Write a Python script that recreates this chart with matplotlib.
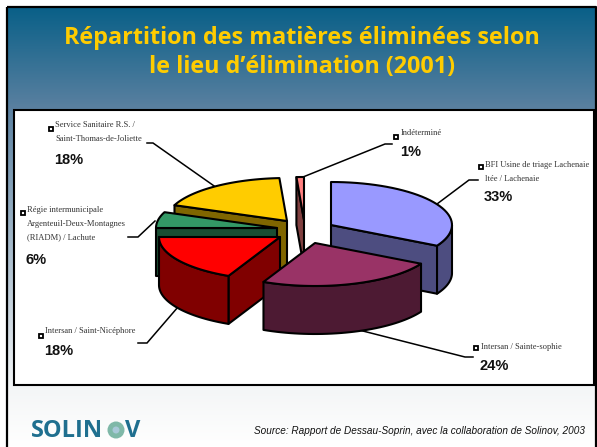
import numpy as np
import matplotlib
matplotlib.use('Agg')
import matplotlib.pyplot as plt
from matplotlib.patches import Polygon, Rectangle, Circle
from matplotlib.colors import LinearSegmentedColormap

names = ['BFI Usine de triage Lachenaie\nltée / Lachenaie', 'Intersan / Sainte-sophie',
         'Intersan / Saint-Nicéphore', 'Régie intermunicipale\nArgenteuil-Deux-Montagnes\n(RIADM) / Lachute',
         'Service Sanitaire R.S. /\nSaint-Thomas-de-Joliette', 'Indéterminé']
values = [33, 24, 18, 6, 18, 1]
top_colors = ['#9999ff', '#993366', '#ff0000', '#339966', '#ffcc00', '#ff8080']
side_colors = ['#4d4d80', '#4d1a33', '#800000', '#1a4d33', '#806600', '#804040']
tips_x = [331, 315, 280, 277, 287, 304]
tips_y = [225, 243, 237, 228, 221, 220]
draw_order = [5, 4, 3, 2, 0, 1]
label_x = [485, 481, 45, 27, 55, 401]
label_y = [161, 343, 327, 206, 121, 129]
pct_x = [484, 480, 44, 26, 54, 400]
pct_y = [197, 366, 351, 260, 160, 152]
marker_x = [481, 476, 41, 23, 51, 396]
marker_y = [167, 348, 336, 213, 129, 137]
leader_x = [[478, 469, 437], [473, 465, 355], [138, 147, 178], [128, 138, 155], [147, 153, 217], [392, 385, 303]]
leader_y = [[180, 180, 204], [357, 357, 329], [343, 343, 307], [237, 237, 221], [143, 143, 188], [144, 144, 177]]
title_lines = ['Répartition des matières éliminées selon', 'le lieu d’élimination (2001)']
source_text = 'Source: Rapport de Dessau-Soprin, avec la collaboration de Solinov, 2003'

RX, RY, DEPTH = 121, 43, 48

fig = plt.figure(figsize=(5.97, 4.47), dpi=100, facecolor='white')
ax = fig.add_axes([0, 0, 1, 1])

cmap = LinearSegmentedColormap.from_list('bg', [(0, '#0a6088'), (0.226, '#5a80a0'), (0.87, '#f4f6f7'), (1, '#ffffff')])
grad = np.linspace(0, 1, 256).reshape(-1, 1)
ax.imshow(grad, cmap=cmap, extent=(7, 596, 447, 8), aspect='auto', zorder=0)
ax.set_xlim(0, 597)
ax.set_ylim(447, 0)
ax.axis('off')
ax.plot([7, 7], [447, 7], color='black', lw=1.6, zorder=1, solid_capstyle='butt')
ax.plot([7, 596, 596], [7, 7, 447], color='black', lw=1.6, zorder=1, solid_capstyle='butt')
ax.add_patch(Rectangle((13.5, 109.5), 580, 275.5, fc='white', ec='black', lw=1.5, zorder=2))

for line, y in zip(title_lines, (38.5, 66.5)):
    ax.text(302, y, line, ha='center', va='center', color='#ffcc00', fontsize=16.8,
            family='Open Sans', weight='bold', zorder=5)


def pt(cx, cy, deg):
    r = np.radians(deg)
    return cx + RX * np.sin(r), cy - RY * np.cos(r)


def arc(cx, cy, t1, t2):
    ts = np.linspace(t1, t2, 40)
    return np.column_stack(pt(cx, cy, ts))


edges = np.concatenate([[0], np.cumsum(values)]) * 3.6
for i in draw_order:
    cx, cy, t1, t2 = tips_x[i], tips_y[i], edges[i], edges[i + 1]
    kw = dict(ec='black', lw=1.5, joinstyle='round', zorder=3)
    for t, vis in ((t1, np.sin(np.radians(t1)) < -1e-6), (t2, np.sin(np.radians(t2)) > 1e-6)):
        if vis:
            x, y = pt(cx, cy, t)
            ax.add_patch(Polygon([(cx, cy), (x, y), (x, y + DEPTH), (cx, cy + DEPTH)], fc=side_colors[i], **kw))
    a, b = max(t1, 90), min(t2, 270)
    if a < b:
        rim = arc(cx, cy, a, b)
        low = (rim + [0, DEPTH])[::-1]
        ax.add_patch(Polygon(np.vstack([rim, low]), fc=side_colors[i], **kw))
    top = np.vstack([[(cx, cy)], arc(cx, cy, t1, t2)])
    ax.add_patch(Polygon(top, fc=top_colors[i], **kw))

for i in range(len(values)):
    ax.plot(leader_x[i], leader_y[i], color='black', lw=1.1, zorder=2.5, solid_joinstyle='miter')
    ax.plot(marker_x[i], marker_y[i], 's', ms=3.4, mfc='white', mec='black', mew=1.3, zorder=4)
    ax.text(label_x[i], label_y[i], names[i], ha='left', va='top', fontsize=6.1, color='#333333',
            family='Liberation Serif', linespacing=1.95, zorder=5)
    ax.text(pct_x[i], pct_y[i], f'{values[i]}%', ha='left', va='center', fontsize=10.5, color='#111111',
            family='Liberation Sans', weight='bold', zorder=5)

ax.text(254, 431, source_text, ha='left', va='center', fontsize=7.2, style='italic', color='#111111',
        family='Liberation Sans', zorder=5)

logo = '#1f6f8f'
ax.text(31, 431, 'SOLIN', ha='left', va='center', fontsize=17, weight='bold', color=logo,
        family='Open Sans', zorder=5)
ax.add_patch(Circle((116, 430), 8.5, fc='#7fb8a8', ec='none', zorder=5))
ax.add_patch(Circle((116, 430), 3.5, fc='#a8c8d8', ec='none', zorder=6))
ax.text(125, 431, 'V', ha='left', va='center', fontsize=17, weight='bold', color=logo,
        family='Open Sans', zorder=5)

fig.savefig('out.png', dpi=100)
